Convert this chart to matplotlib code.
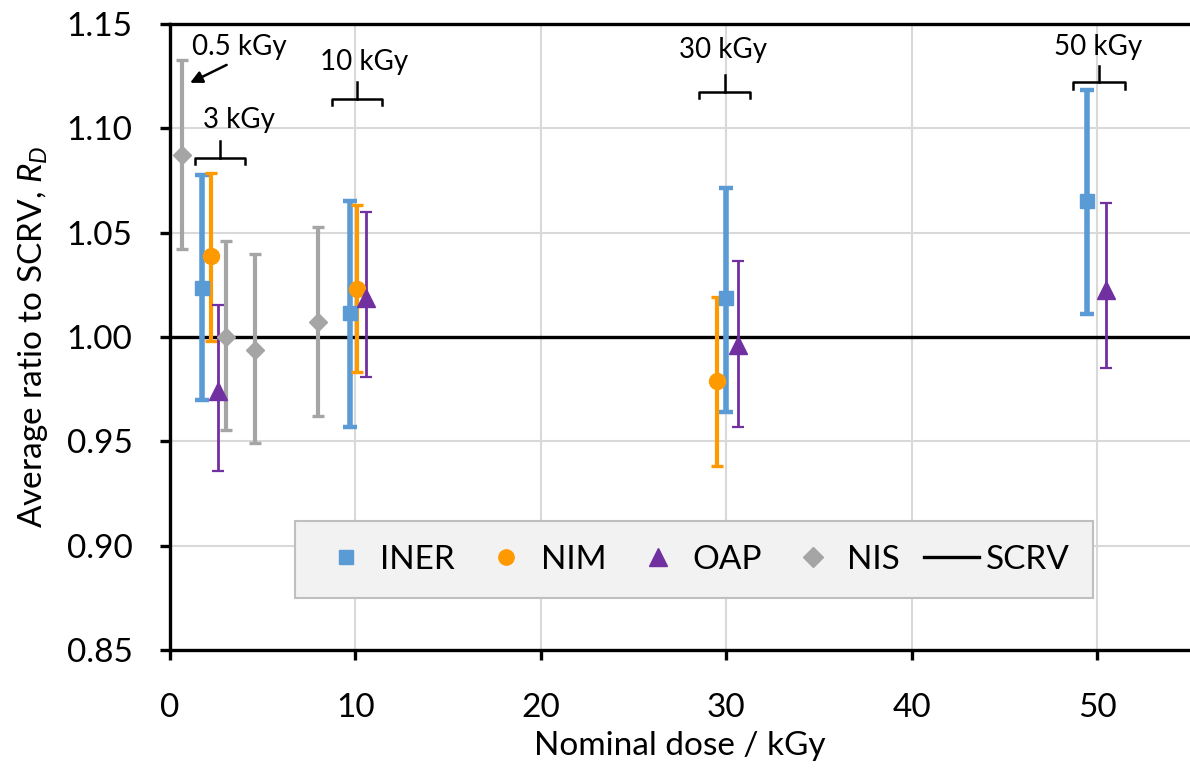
import matplotlib
matplotlib.use("Agg")
import matplotlib.pyplot as plt
from matplotlib.lines import Line2D

plt.rcParams['font.family'] = ['Lato', 'DejaVu Sans']
plt.rcParams['mathtext.fontset'] = 'custom'
plt.rcParams['mathtext.rm'] = 'Lato'
plt.rcParams['mathtext.it'] = 'Lato:italic'

# dose positions (slightly offset per lab, as in the original) and ratios
iner_x = [1.74, 9.73, 30.0, 49.46]
iner_y = [1.0234, 1.0114, 1.0186, 1.065]
iner_lo = [0.970, 0.957, 0.964, 1.011]
iner_hi = [1.0777, 1.065, 1.0716, 1.1184]

nim_x = [2.19, 10.1, 29.48]
nim_y = [1.039, 1.023, 0.979]
nim_lo = [0.998, 0.983, 0.938]
nim_hi = [1.0788, 1.0633, 1.0194]

oap_x = [2.6, 10.57, 30.65, 50.45]
oap_y = [0.974, 1.0186, 0.996, 1.0226]
oap_lo = [0.9356, 0.981, 0.957, 0.985]
oap_hi = [1.0154, 1.060, 1.0365, 1.064]

nis_x = [0.66, 3.0, 4.6, 7.97]
nis_y = [1.087, 1.000, 0.9939, 1.0074]
nis_lo = [1.042, 0.9555, 0.949, 0.962]
nis_hi = [1.1328, 1.046, 1.0397, 1.0526]

scrv_y = 1.0

# group labels: text, text x, text y, bracket x0, x1, bracket y, stem top
groups = [
    ("3 kGy", 3.7, 1.104, 1.34, 4.03, 1.086, 1.094),
    ("10 kGy", 10.47, 1.132, 8.75, 11.44, 1.114, 1.122),
    ("30 kGy", 29.8, 1.1375, 28.55, 31.27, 1.1176, 1.1256),
    ("50 kGy", 50.05, 1.139, 48.7, 51.5, 1.122, 1.130),
]

fig = plt.figure(figsize=(11.9, 7.79), dpi=100)
ax = fig.add_axes([0.1429, 0.1656, 0.8571, 0.8036])

ax.axhline(scrv_y, color='black', lw=2.4, zorder=2)


def draw(xs, ys, lo, hi, color, marker, ms, elw, cap):
    yerr = [[y - l for y, l in zip(ys, lo)], [h - y for y, h in zip(ys, hi)]]
    ax.errorbar(xs, ys, yerr=yerr, fmt=marker, color=color, ms=ms,
                elinewidth=elw, capsize=cap, capthick=elw * 0.8, zorder=3)


draw(iner_x, iner_y, iner_lo, iner_hi, '#5b9bd5', 's', 10, 4.0, 4.7)
draw(nim_x, nim_y, nim_lo, nim_hi, '#ff9900', 'o', 11.5, 3.0, 4.4)
draw(oap_x, oap_y, oap_lo, oap_hi, '#7030a0', '^', 13, 2.0, 4.2)
draw(nis_x, nis_y, nis_lo, nis_hi, '#a5a5a5', 'D', 9, 3.0, 4.6)

# brackets with labels
for txt, tx, ty, x0, x1, by, stem in groups:
    xm = (x0 + x1) / 2
    ax.plot([x0, x0, x1, x1], [by - 0.003, by, by, by - 0.003], color='black', lw=1.8, zorder=4)
    ax.plot([xm, xm], [by, stem], color='black', lw=1.8, zorder=4)
    ax.text(tx, ty, txt, ha='center', va='center', fontsize=20)

ax.text(3.74, 1.139, "0.5 kGy", ha='center', va='center', fontsize=20)
ax.annotate("", xy=(1.08, 1.1218), xytext=(3.05, 1.1304),
            arrowprops=dict(arrowstyle='-|>', color='black', lw=1.8,
                            shrinkA=0, shrinkB=0, mutation_scale=18))

ax.set_xlim(0, 55)
ax.set_ylim(0.85, 1.15)
ax.set_xticks([0, 10, 20, 30, 40, 50])
ax.set_yticks([0.85, 0.90, 0.95, 1.00, 1.05, 1.10, 1.15])
ax.set_yticklabels([f"{v:.2f}" for v in [0.85, 0.90, 0.95, 1.00, 1.05, 1.10, 1.15]])
ax.grid(True, color='#d9d9d9', lw=1.5, zorder=0)
ax.set_axisbelow(True)

for s in ['left', 'bottom', 'top']:
    ax.spines[s].set_linewidth(2.4)
ax.spines['right'].set_visible(False)
ax.tick_params(direction='out', length=7, width=2.4, labelsize=24)
ax.tick_params(axis='y', pad=20)
ax.tick_params(axis='x', pad=24)

ax.set_xlabel("Nominal dose / kGy", fontsize=24, labelpad=6)
ax.set_ylabel("Average ratio to SCRV, $R_D$", fontsize=24, labelpad=12)

handles = [
    Line2D([], [], ls='none', marker='s', color='#5b9bd5', ms=10),
    Line2D([], [], ls='none', marker='o', color='#ff9900', ms=11),
    Line2D([], [], ls='none', marker='^', color='#7030a0', ms=13),
    Line2D([], [], ls='none', marker='D', color='#a5a5a5', ms=10),
    Line2D([], [], color='black', lw=2.4),
]
leg = ax.legend(handles, ["INER", "NIM", "OAP", "NIS", "SCRV"], ncol=5, fontsize=24,
                loc='center', bbox_to_anchor=(0.1225, 0.0735, 0.7825, 0.142),
                mode='expand', frameon=True,
                fancybox=False, facecolor='#f2f2f2', edgecolor='#bfbfbf',
                framealpha=1, borderpad=0.7, handlelength=1.65, columnspacing=1.0,
                handletextpad=0.2, borderaxespad=0)
leg.get_frame().set_linewidth(1.5)

fig.savefig("out.png", dpi=100)
